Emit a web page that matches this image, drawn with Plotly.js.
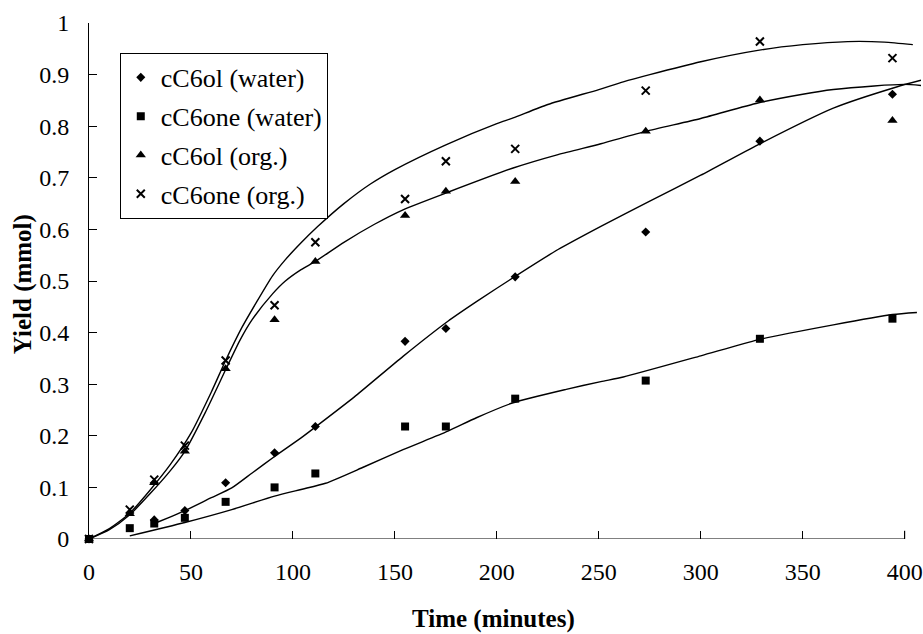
<!DOCTYPE html>
<html>
<head>
<meta charset="utf-8">
<script src="https://cdn.plot.ly/plotly-3.0.1.min.js"></script>
<style>html,body{margin:0;padding:0;background:#fff;}#chart{width:923px;height:634px;}</style>
</head>
<body>
<div id="chart"></div>
<script>
// Measured times (minutes)
const time = [0, 20, 32, 47, 67, 91, 111, 155, 175, 209, 273, 329, 394];

// Yields (mmol)
const olWater  = [0, null, 0.037, 0.055, 0.109, 0.167, 0.218, 0.383, 0.408, 0.508, 0.595, 0.771, 0.862];
const oneWater = [0, 0.021, 0.030, 0.041, 0.072, 0.100, 0.127, 0.218, 0.218, 0.272, 0.307, 0.388, 0.427];
const olOrg    = [0, 0.049, 0.109, 0.170, 0.330, 0.425, 0.538, 0.627, 0.674, 0.693, 0.790, 0.851, 0.811];
const oneOrg   = [0, 0.057, 0.115, 0.181, 0.346, 0.453, 0.575, 0.659, 0.732, 0.756, 0.869, 0.964, 0.932];

// Fitted trend curves
const fitOneOrgX = [0, 10, 20, 30, 40, 50, 60, 67, 75, 82, 90, 96, 104, 112, 125, 138, 150, 175, 200, 208, 225, 250, 262, 275, 300, 328, 350, 372, 390, 404];
const fitOneOrgY = [0, 0.02, 0.05, 0.095, 0.145, 0.205, 0.285, 0.346, 0.41, 0.458, 0.51, 0.54, 0.574, 0.605, 0.65, 0.688, 0.716, 0.764, 0.805, 0.816, 0.842, 0.871, 0.886, 0.9, 0.925, 0.947, 0.958, 0.964, 0.963, 0.958];

const fitOlOrgX = [0, 10, 20, 30, 40, 47, 57, 67, 74, 80, 90, 96, 104, 111, 125, 140, 154, 176, 208, 230, 251, 273, 300, 328, 350, 365, 385, 400, 408];
const fitOlOrgY = [0, 0.018, 0.047, 0.088, 0.133, 0.17, 0.245, 0.328, 0.385, 0.425, 0.475, 0.499, 0.522, 0.538, 0.575, 0.61, 0.638, 0.672, 0.719, 0.745, 0.766, 0.79, 0.815, 0.845, 0.862, 0.871, 0.878, 0.881, 0.879];

const fitOlWaterX = [32, 40, 47, 60, 70, 80, 91, 104, 111, 130, 154, 176, 190, 209, 230, 251, 275, 300, 328, 365, 396, 408];
const fitOlWaterY = [0.03, 0.043, 0.055, 0.08, 0.099, 0.128, 0.16, 0.196, 0.217, 0.275, 0.354, 0.422, 0.46, 0.509, 0.561, 0.606, 0.655, 0.705, 0.764, 0.835, 0.876, 0.889];

const fitOneWaterX = [20, 47, 70, 91, 104, 116, 135, 154, 176, 190, 208, 234, 251, 262, 300, 328, 365, 394, 406];
const fitOneWaterY = [0.006, 0.032, 0.057, 0.083, 0.096, 0.108, 0.14, 0.173, 0.209, 0.235, 0.264, 0.29, 0.305, 0.314, 0.355, 0.386, 0.415, 0.435, 0.439];

const names = ['cC6ol (water)', 'cC6one (water)', 'cC6ol (org.)', 'cC6one (org.)'];
const yTickVals = [0, 0.1, 0.2, 0.3, 0.4, 0.5, 0.6, 0.7, 0.8, 0.9, 1];
const yTickText = ['0', '0.1', '0.2', '0.3', '0.4', '0.5', '0.6', '0.7', '0.8', '0.9', '1'];
const xTickVals = [0, 50, 100, 150, 200, 250, 300, 350, 400];
const xTitle = 'Time (minutes)';
const yTitle = 'Yield (mmol)';

const FONT = 'Liberation Serif, Times New Roman, serif';
const lineStyle = {color: '#000', width: 1.4, shape: 'spline', smoothing: 0.6};

function fit(x, y) {
  return {x: x, y: y, mode: 'lines', line: lineStyle, showlegend: false, hoverinfo: 'skip'};
}
function pts(y, name, symbol, size, group) {
  const m = {symbol: symbol, size: size, color: '#000'};
  if (symbol.indexOf('open') >= 0) m.line = {color: '#000', width: 2};
  return {x: time, y: y, name: name, mode: 'markers', marker: m, legendgroup: group, cliponaxis: false};
}

const data = [
  fit(fitOneOrgX, fitOneOrgY),
  fit(fitOlOrgX, fitOlOrgY),
  fit(fitOlWaterX, fitOlWaterY),
  fit(fitOneWaterX, fitOneWaterY),
  pts(olWater, names[0], 'diamond', 7, 'a'),
  pts(oneWater, names[1], 'square', 8, 'b'),
  pts(olOrg, names[2], 'triangle-up', 9, 'c'),
  pts(oneOrg, names[3], 'x-thin-open', 8, 'd')
];

const layout = {
  width: 923, height: 634,
  margin: {l: 88.5, r: 2, t: 23.3, b: 94.7},
  paper_bgcolor: '#fff', plot_bgcolor: '#fff',
  font: {family: FONT, color: '#000', size: 24},
  showlegend: true,
  legend: {
    x: 0.037, y: 0.942, xanchor: 'left', yanchor: 'top',
    bgcolor: '#fff', bordercolor: '#000', borderwidth: 1,
    font: {family: FONT, size: 26, color: '#000'},
    tracegroupgap: 2, traceorder: 'grouped', itemwidth: 30
  },
  xaxis: {
    range: [0, 408], tickvals: xTickVals, ticks: 'inside', ticklen: 8, tickcolor: '#000', tickwidth: 1,
    showline: false, showgrid: false, zeroline: false,
    tickfont: {family: FONT, size: 24, color: '#000'}, ticklabelstandoff: 16
  },
  yaxis: {
    range: [0, 1], tickvals: yTickVals, ticktext: yTickText, ticks: 'inside', ticklen: 8, tickcolor: '#000', tickwidth: 1,
    showline: true, linecolor: '#000', linewidth: 1, showgrid: false, zeroline: false,
    tickfont: {family: FONT, size: 24, color: '#000'}, ticklabelstandoff: 14
  },
  annotations: [
    {text: xTitle, xref: 'paper', yref: 'paper', x: 0.486, y: -0.1545, xanchor: 'center', yanchor: 'middle', showarrow: false,
     font: {family: FONT, size: 25, color: '#000', weight: 'bold'}},
    {text: yTitle, xref: 'paper', yref: 'paper', x: -0.0799, y: 0.493, xanchor: 'center', yanchor: 'middle', showarrow: false, textangle: -90,
     font: {family: FONT, size: 25, color: '#000', weight: 'bold'}}
  ],
  shapes: [
    {type: 'line', xref: 'x', yref: 'y', x0: 0, x1: 400, y0: 0, y1: 0, line: {color: '#000', width: 1}},
    {type: 'line', xref: 'x', yref: 'y', x0: 400, x1: 400, y0: 0, y1: 0.016, line: {color: '#000', width: 1}}
  ]
};

Plotly.newPlot('chart', data, layout, {displayModeBar: false, staticPlot: true});
</script>
</body>
</html>
